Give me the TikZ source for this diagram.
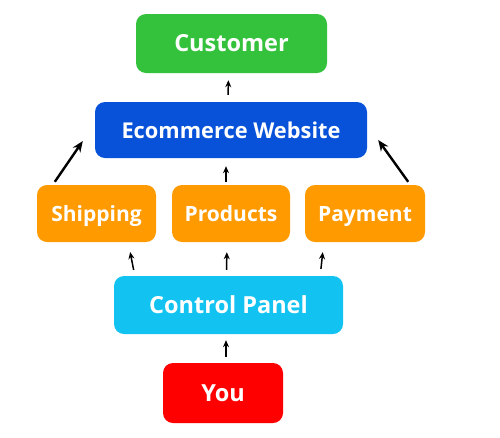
\documentclass[tikz,border=0pt]{standalone}
\usepackage{fontspec}
\setmainfont{Open Sans}
\usetikzlibrary{arrows.meta}

\definecolor{custgreen}{HTML}{34C23C}
\definecolor{webblue}{HTML}{0752D9}
\definecolor{boxorange}{HTML}{FF9B00}
\definecolor{panelcyan}{HTML}{12C3F1}
\definecolor{youred}{HTML}{FF0000}

\tikzset{
    box/.style={rounded corners=10pt, text=white, inner sep=0pt, text height=17pt, text depth=1pt},
    arr/.style={-{Stealth[length=7pt,width=6pt]}, line width=1.5pt},
    bigarr/.style={-{Stealth[length=11pt,width=9pt]}, line width=2.4pt}
}

\begin{document}
\begin{tikzpicture}[x=1pt, y=-1pt]
    \useasboundingbox (0,0) rectangle (500,437);

    % 1. Cac hop
    \node[box, fill=custgreen, minimum width=191pt, minimum height=59pt, font=\bfseries\fontsize{23.5}{26}\selectfont] (cust) at (231.5,43.5) {Customer};
    \node[box, fill=webblue, minimum width=272pt, minimum height=56pt, font=\bfseries\fontsize{21.8}{24}\selectfont] (web) at (231,130) {Ecommerce Website};

    \node[box, fill=boxorange, minimum width=119pt, minimum height=57pt, font=\bfseries\fontsize{21}{24}\selectfont] (ship) at (96.5,213.5) {Shipping};
    \node[box, fill=boxorange, minimum width=118pt, minimum height=57pt, font=\bfseries\fontsize{21}{24}\selectfont] (prod) at (231,213.5) {Products};
    \node[box, fill=boxorange, minimum width=120pt, minimum height=57pt, font=\bfseries\fontsize{21}{24}\selectfont] (pay) at (365,213.5) {Payment};

    \node[box, fill=panelcyan, minimum width=229pt, minimum height=58pt, font=\bfseries\fontsize{23.5}{26}\selectfont] (panel) at (228.5,305) {Control Panel};
    \node[box, fill=youred, minimum width=120pt, minimum height=60pt, font=\bfseries\fontsize{23.5}{26}\selectfont] (you) at (223,393) {You};

    % 2. Mui ten len tren
    \draw[arr, shorten <=7pt, shorten >=7pt] ([xshift=-3pt]web.north) -- ([xshift=-3pt]cust.south);
    \draw[arr, shorten <=3pt, shorten >=8pt] ([xshift=-5pt]prod.north) -- ([xshift=-5pt]web.south);
    \draw[bigarr] ([xshift=18pt,yshift=3pt]ship.north west) -- ([xshift=-12pt,yshift=-11pt]web.west);
    \draw[bigarr] ([xshift=-17pt,yshift=3pt]pay.north east) -- ([xshift=11pt,yshift=-10pt]web.east);

    \draw[arr, shorten <=6pt, shorten >=10pt] ([xshift=21pt]panel.north west) -- ([xshift=-28pt]ship.south east);
    \draw[arr, shorten <=6pt, shorten >=10pt] ([xshift=-2pt]panel.north) -- ([xshift=-4pt]prod.south);
    \draw[arr, shorten <=7pt, shorten >=10pt] ([xshift=-23pt]panel.north east) -- ([xshift=19pt]pay.south west);
    \draw[arr, shorten <=6pt, shorten >=6pt] ([xshift=3pt]you.north) -- ([xshift=-2.5pt]panel.south);
\end{tikzpicture}
\end{document}
